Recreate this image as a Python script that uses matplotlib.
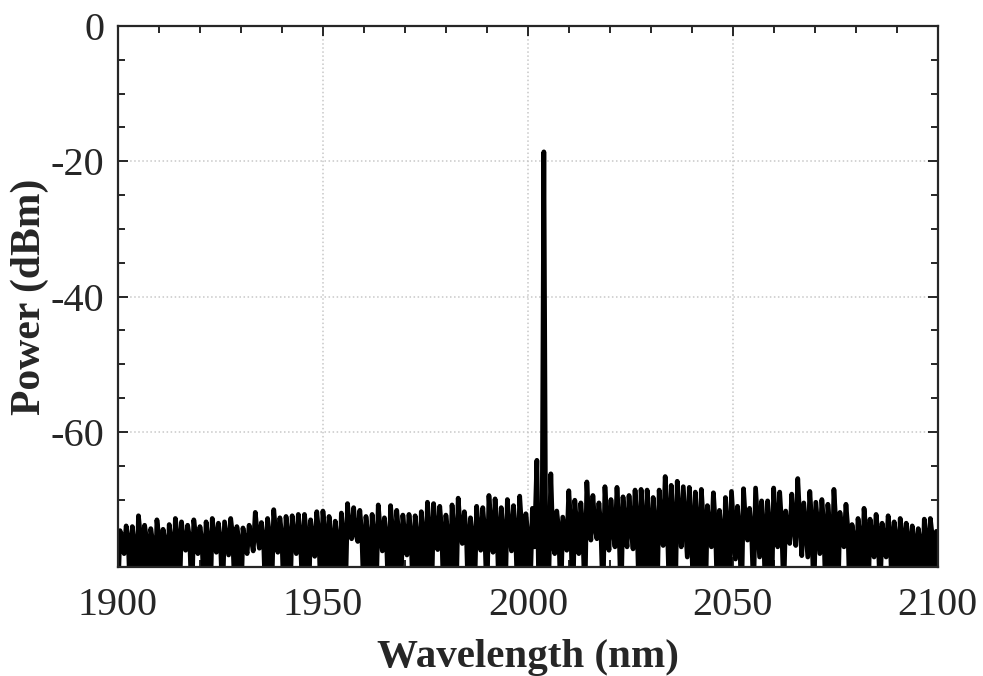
import numpy as np
import matplotlib
matplotlib.use("Agg")
import matplotlib.pyplot as plt
from matplotlib.ticker import MultipleLocator, FixedLocator

# ---------------- data ----------------
# Left noise region: periods of 1.5 nm, each [low, peak, mid] at +0, +0.5, +1.0 nm
left_start = 1900.0
left_step = 0.5
left_peaks = [-74.6, -73.9, -74.0, -72.4, -73.8, -74.3, -73.0, -74.4, -73.7, -72.8,
              -73.3, -73.8, -73.0, -74.0, -73.3, -72.8, -73.5, -73.3, -72.8, -74.0,
              -74.2, -73.8, -71.9, -73.4, -72.8, -71.5, -72.7, -72.5, -72.4, -72.2,
              -72.2, -73.0, -71.8, -71.7, -72.5, -73.2, -72.0, -70.6, -71.2, -71.6,
              -72.5, -72.2, -70.8, -72.7, -70.9, -71.6, -72.3, -72.2, -72.4, -71.8,
              -70.4, -70.6, -71.0, -72.3, -70.8, -69.8, -71.8, -72.7, -71.0, -71.2,
              -69.4, -69.9, -71.2, -70.0, -70.9, -69.5, -72.1]
left_mids = [-76.2, -75.8, -76.5, -75.6, -76.0, -76.4, -75.7, -76.1, -75.9, -75.5,
             -76.3, -75.8, -75.6, -76.2, -75.9, -75.4, -76.0, -75.7, -75.5, -76.1,
             -76.3, -75.8, -75.2, -75.6, -75.4, -75.0, -75.5,
             -75.3, -75.6, -75.2, -75.4, -75.8, -75.1, -75.0, -75.5, -75.9, -75.2,
             -74.6, -75.0, -75.3, -75.6, -75.4, -74.8, -75.7, -74.9, -75.2, -75.5,
             -75.3, -75.6, -75.1, -74.5, -74.7, -74.9, -75.4,
             -74.8, -74.3, -75.0, -75.5, -74.9, -75.0, -74.2, -74.5, -75.0, -74.6,
             -74.9, -74.3, -75.2]
left_lows = [-84, -78.0, -85, -86, -84, -85, -86, -84, -85, -86,
             -85, -77.5, -85, -78.0, -84, -86, -77.8, -85, -78.2, -84,
             -86, -78.0, -77.6, -77.2, -85, -84, -77.8, -86, -85, -78.0,
             -84, -86, -78.4, -85, -84, -86, -85, -84, -75.8, -76.2,
             -85, -86, -84, -77.6, -85, -86, -84, -78.2, -85, -86,
             -84, -85, -77.4, -86, -84, -85, -76.5, -86, -84, -77.5,
             -85, -77.8, -86, -84, -77.6, -85, -86]

# Laser line region
line_wl = [2000.5, 2001.1, 2001.6, 2002.2, 2002.7, 2003.4, 2003.9, 2004.4, 2005.0, 2005.6, 2006.1]
line_pw = [-85.0, -71.3, -77.0, -64.2, -85.0, -85.0, -18.6, -85.0, -85.0, -66.2, -76.5]

# Right noise region: periods of 1.47 nm, each [low, peak, mid]
right_start = 2006.55
right_step = 0.49
right_peaks = [-71.7, -72.6, -68.7, -70.1, -70.5, -67.4, -69.4, -70.5, -68.1, -70.0,
               -68.2, -69.6, -69.4, -68.6, -68.5, -68.6, -69.7, -68.6, -66.6, -67.9,
               -67.3, -68.1, -68.2, -68.9, -68.5, -70.9, -69.0, -71.6, -69.7, -68.8,
               -71.0, -68.4, -71.3, -68.3, -70.2, -70.2, -68.3, -68.9,
               -71.7, -69.2, -66.9, -70.5, -68.8, -70.4, -70.0, -70.7, -68.5, -71.9,
               -70.7, -73.7, -72.8, -71.3, -72.9, -72.2, -73.5, -72.4, -73.3, -72.8,
               -73.5, -73.9, -74.3, -72.9, -72.8, -74.7]
right_mids = [-74.5, -75.0, -73.8, -74.2, -74.6, -73.5, -74.0, -74.4, -73.6, -74.2,
              -73.6, -74.0, -73.9, -73.5, -73.4, -73.6, -74.0, -73.5, -72.8, -73.2,
              -73.0, -73.4, -73.5, -73.8, -73.6, -74.5, -73.9, -74.8, -74.0, -73.7,
              -74.6, -73.5, -74.7, -73.4, -74.2, -74.3, -73.5, -73.8, -74.9, -74.0,
              -73.0, -74.4, -73.8, -74.3, -74.1, -74.5, -73.7, -75.0, -74.6, -75.8,
              -75.4, -74.8, -75.5, -75.2, -75.8, -75.3, -75.7, -75.4, -75.8, -76.0,
              -76.3, -75.6, -75.5, -76.5]
right_lows = [-78.0, -85, -77.5, -86, -78.0, -85, -76.0, -75.8, -85, -77.5,
              -77.0, -86, -77.0, -77.3, -85, -84, -86, -85, -76.8, -84,
              -86, -77.0, -78.5, -85, -84, -86, -77.0, -85, -84, -86,
              -78.8, -85, -76.0, -84, -78.5, -86, -85, -77.0, -84, -76.5,
              -76.8, -78.3, -78.5, -85, -78.0, -86, -84, -85, -77.0, -86,
              -84, -85, -86, -78.5, -84, -78.5, -85, -86, -84, -85,
              -86, -84, -85, -86]

x_ticks = [1900, 1950, 2000, 2050, 2100]
y_ticks = [-60, -40, -20, 0]


def interleave(lows, peaks, mids):
    return np.column_stack([lows, peaks, mids]).ravel()


left_pw = interleave(left_lows, left_peaks, left_mids)
left_wl = left_start + left_step * np.arange(left_pw.size)
right_pw = interleave(right_lows, right_peaks, right_mids)
right_wl = right_start + right_step * np.arange(right_pw.size)

wl = np.concatenate([left_wl, line_wl, right_wl])
pw = np.concatenate([left_pw, line_pw, right_pw])

# ---------------- plotting ----------------
plt.rcParams['font.family'] = ['Liberation Serif', 'DejaVu Serif']
plt.rcParams['axes.unicode_minus'] = False

fig = plt.figure(figsize=(9.83, 6.76), dpi=100)
ax = fig.add_axes([0.12, 0.161, 0.834, 0.8005])

ax.plot(wl, pw, color='black', lw=3.4, solid_joinstyle='round', solid_capstyle='round')

ax.set_xlim(1900, 2100)
ax.set_ylim(-80, 0)
ax.xaxis.set_major_locator(FixedLocator(x_ticks))
ax.yaxis.set_major_locator(FixedLocator(y_ticks))
ax.xaxis.set_minor_locator(MultipleLocator(10))
ax.yaxis.set_minor_locator(MultipleLocator(5))

ax.grid(True, which='major', linestyle=':', color='#c8c8c8', linewidth=1.1)
ax.set_axisbelow(True)

axcol = '#262626'
for sp in ax.spines.values():
    sp.set_linewidth(1.6)
    sp.set_color(axcol)
ax.tick_params(which='both', direction='in', top=True, right=True,
               width=1.4, color=axcol, labelcolor=axcol, labelsize=29)
ax.tick_params(which='major', length=7)
ax.tick_params(axis='x', which='major', pad=14)
ax.tick_params(axis='y', which='major', pad=10)
ax.tick_params(which='minor', length=5)

ax.set_xlabel('Wavelength (nm)', fontsize=29.5, fontweight='bold', color=axcol, labelpad=11)
ax.set_ylabel('Power (dBm)', fontsize=30, fontweight='bold', color=axcol, labelpad=1)

fig.savefig('out.png', dpi=100)
